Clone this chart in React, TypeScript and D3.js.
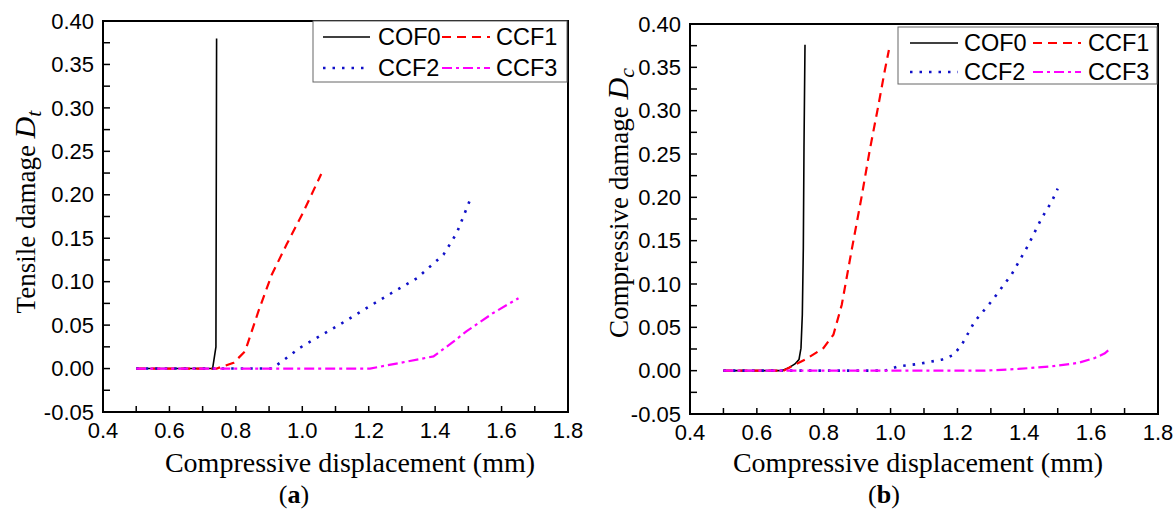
import React from 'react';
import * as d3 from 'd3';

// x ticks (mm) and y ticks (damage)
const xMajor = [0.4, 0.6, 0.8, 1.0, 1.2, 1.4, 1.6, 1.8];
const xMajorLabels = ['0.4', '0.6', '0.8', '1.0', '1.2', '1.4', '1.6', '1.8'];
const xMinor = [0.5, 0.6, 0.7, 0.8, 0.9, 1.0, 1.1, 1.2, 1.3, 1.4, 1.5, 1.6, 1.7];
const yMajor = [-0.05, 0, 0.05, 0.1, 0.15, 0.2, 0.25, 0.3, 0.35, 0.4];
const yMajorLabels = ['-0.05', '0.00', '0.05', '0.10', '0.15', '0.20', '0.25', '0.30', '0.35', '0.40'];
const yMinor = [-0.025, 0, 0.025, 0.05, 0.075, 0.1, 0.125, 0.15, 0.175, 0.2, 0.225, 0.25, 0.275, 0.3, 0.325, 0.35, 0.375];

const seriesNames = ['COF0', 'CCF1', 'CCF2', 'CCF3'];

// (a) tensile damage
const tCOF0: [number, number][] = [[0.5, 0], [0.6, 0], [0.7, 0], [0.73, 0], [0.74, 0.025], [0.742, 0.38]];
const tCCF1: [number, number][] = [[0.5, 0], [0.6, 0], [0.7, 0], [0.742, 0], [0.793, 0.0065], [0.828, 0.02], [0.868, 0.066], [0.908, 0.108], [0.953, 0.143], [1.003, 0.18], [1.057, 0.224]];
const tCCF2: [number, number][] = [[0.5, 0], [0.7, 0], [0.908, 0], [0.938, 0.008], [0.993, 0.024], [1.114, 0.051], [1.234, 0.079], [1.345, 0.104], [1.425, 0.131], [1.465, 0.156], [1.505, 0.194]];
const tCCF3: [number, number][] = [[0.5, 0], [0.8, 0], [1.0, 0], [1.204, 0], [1.294, 0.0065], [1.395, 0.014], [1.445, 0.028], [1.495, 0.043], [1.575, 0.064], [1.651, 0.081]];

// (b) compressive damage
const cCOF0: [number, number][] = [[0.5, 0], [0.674, 0], [0.694, 0.003], [0.714, 0.0077], [0.726, 0.0127], [0.732, 0.026], [0.736, 0.0645], [0.739, 0.141], [0.741, 0.257], [0.744, 0.376]];
const cCCF1: [number, number][] = [[0.5, 0], [0.68, 0], [0.714, 0.007], [0.744, 0.0127], [0.799, 0.026], [0.829, 0.0415], [0.854, 0.076], [0.884, 0.14], [0.913, 0.2], [0.938, 0.255], [0.963, 0.305], [0.983, 0.347], [0.995, 0.37]];
const cCCF2: [number, number][] = [[0.5, 0], [0.8, 0], [0.983, 0], [1.023, 0.005], [1.083, 0.0077], [1.153, 0.0127], [1.188, 0.018], [1.213, 0.03], [1.252, 0.057], [1.302, 0.08], [1.362, 0.111], [1.412, 0.145], [1.452, 0.176], [1.482, 0.195], [1.5, 0.21]];
const cCCF3: [number, number][] = [[0.5, 0], [0.9, 0], [1.28, 0], [1.382, 0.002], [1.482, 0.005], [1.562, 0.009], [1.611, 0.0146], [1.641, 0.02], [1.656, 0.025]];

const styles = [
  { color: '#000000', dash: '', width: 1.6 },
  { color: '#ff0000', dash: '9 6', width: 2.2 },
  { color: '#1010c8', dash: '2.5 7', width: 2.6 },
  { color: '#ff00ff', dash: '10 4 3 4', width: 2.2 },
];

const sans = '"Liberation Sans", Arial, sans-serif';
const serif = '"Liberation Serif", "Times New Roman", serif';

function Panel(props: any) {
  const { x0, x1, yTop, yBot, data, title, sub, letter, letterX, titleX, yTitleX, yTitleY, leg, legOff } = props;
  const x = d3.scaleLinear().domain([0.4, 1.8]).range([x0, x1]);
  const y = d3.scaleLinear().domain([-0.05, 0.4]).range([yBot, yTop]);
  const line = d3.line<[number, number]>().x(d => x(d[0])).y(d => y(d[1]));

  const legendItem = (i: number, row: number, col: number) => {
    const ly = leg.y + (row === 0 ? leg.r1 : leg.r2);
    const sx0 = leg.x + (col === 0 ? legOff[0] : legOff[3]);
    const sx1 = leg.x + (col === 0 ? legOff[1] : legOff[4]);
    const tx = leg.x + (col === 0 ? legOff[2] : legOff[5]);
    const s = styles[i];
    return (
      <g key={i}>
        <line x1={sx0} x2={sx1} y1={ly} y2={ly} stroke={s.color} strokeWidth={s.width} strokeDasharray={s.dash} />
        <text x={tx} y={ly} dy="0.36em" fontFamily={sans} fontSize={23.5}>{seriesNames[i]}</text>
      </g>
    );
  };

  return (
    <g>
      {data.map((d: [number, number][], i: number) => (
        <path key={i} d={line(d) || ''} fill="none" stroke={styles[i].color}
          strokeWidth={styles[i].width} strokeDasharray={styles[i].dash} />
      ))}
      <rect x={x0} y={yTop} width={x1 - x0} height={yBot - yTop} fill="none" stroke="#000" strokeWidth={2} />
      {xMinor.map(v => (
        <line key={'xm' + v} x1={x(v)} x2={x(v)} y1={yBot} y2={yBot - 6} stroke="#000" strokeWidth={1.5} />
      ))}
      {yMinor.map(v => (
        <line key={'ym' + v} x1={x0} x2={x0 + 7} y1={y(v)} y2={y(v)} stroke="#000" strokeWidth={1.5} />
      ))}
      {xMajor.map((v, i) => (
        <text key={'xl' + v} x={x(v)} y={yBot + 18} dy="0.35em" textAnchor="middle" fontFamily={sans} fontSize={22}>{xMajorLabels[i]}</text>
      ))}
      {yMajor.map((v, i) => (
        <text key={'yl' + v} x={x0 - 9} y={y(v)} dy="0.35em" textAnchor="end" fontFamily={sans} fontSize={22}>{yMajorLabels[i]}</text>
      ))}
      <rect x={leg.x} y={leg.y} width={leg.w} height={leg.h} fill="#fff" stroke="#666" strokeWidth={1} />
      {legendItem(0, 0, 0)}
      {legendItem(1, 0, 1)}
      {legendItem(2, 1, 0)}
      {legendItem(3, 1, 1)}
      <text transform={`translate(${yTitleX},${yTitleY}) rotate(-90)`} textAnchor="middle" fontFamily={serif} fontSize={27}>
        {title}<tspan fontStyle="italic" fontSize={30}>D</tspan><tspan fontStyle="italic" fontSize={22} dy={6}>{sub}</tspan>
      </text>
      <text x={titleX} y={472} textAnchor="middle" fontFamily={serif} fontSize={28}>Compressive displacement (mm)</text>
      <text x={letterX} y={503} textAnchor="middle" fontFamily={serif} fontSize={26}>
        (<tspan fontWeight="bold">{letter}</tspan>)
      </text>
    </g>
  );
}

export default function App() {
  return (
    <svg width={1176} height={511} style={{ position: 'absolute', left: 0, top: 0, background: '#fff' }}>
      <Panel x0={103} x1={568} yTop={21} yBot={412} data={[tCOF0, tCCF1, tCCF2, tCCF3]}
        title="Tensile damage " sub="t" letter="a" letterX={294} titleX={350} yTitleX={35} yTitleY={212}
        leg={{ x: 313, y: 21, w: 254, h: 61, r1: 16, r2: 47 }} legOff={[10, 57, 65, 129, 177, 183]} />
      <Panel x0={690} x1={1158} yTop={24} yBot={414} data={[cCOF0, cCCF1, cCCF2, cCCF3]}
        title="Compressive damage " sub="c" letter="b" letterX={884} titleX={918} yTitleX={628} yTitleY={203}
        leg={{ x: 898, y: 27, w: 259, h: 57, r1: 16, r2: 45 }} legOff={[12, 60, 66, 135, 183, 190]} />
    </svg>
  );
}
